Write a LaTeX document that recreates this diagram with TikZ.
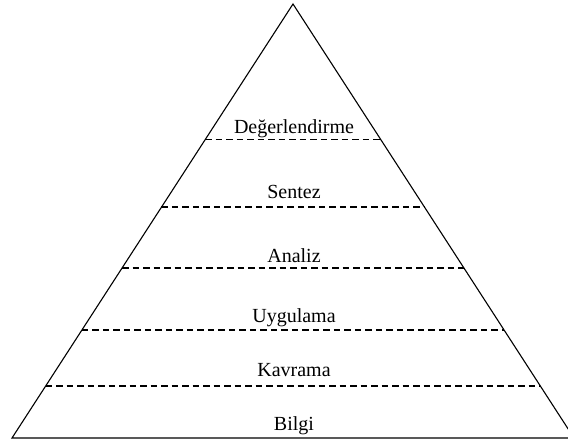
\documentclass[tikz,border=0pt]{standalone}
\usepackage{fontspec}
\setmainfont{Liberation Serif}
\usetikzlibrary{calc}
\tikzset{kenar/.style={line width=1.1pt}}
\tikzset{katman/.style={line width=1.3pt,dash pattern=on 6.5pt off 4pt}}
\tikzset{etiket/.style={anchor=base,inner sep=0pt,font=\fontsize{20}{24}\selectfont}}

\begin{document}
\begin{tikzpicture}[x=1pt,y=-1pt]
\useasboundingbox (0,0) rectangle (568,442);
\clip (0,0) rectangle (568,442);
\coordinate (tepe) at (293,4);
\coordinate (sol) at (12,438);
\coordinate (sag) at (574,438);
\draw [kenar] (sol) -- (tepe) -- (sag) -- cycle;

% kesikli katman cizgileri
\foreach \t/\k in {0.687/d, 0.532/s, 0.392/a, 0.249/u, 0.120/k}
	\draw [katman] ($(sol)!\t!(tepe)$) coordinate (sol\k) -- ($(sag)!\t!(tepe)$) coordinate (sag\k);

\node [etiket] at (294,133) (deg) {Değerlendirme};
\node [etiket] at (294,198) (sen) {Sentez};
\node [etiket] at (294,262) (ana) {Analiz};
\node [etiket] at (294,322) (uyg) {Uygulama};
\node [etiket] at (294,376) (kav) {Kavrama};
\node [etiket] at (294,430) (bil) {Bilgi};
\end{tikzpicture}
\end{document}
